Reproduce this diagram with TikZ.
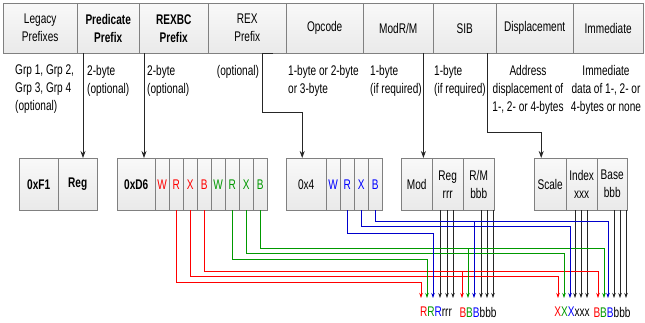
\documentclass[tikz,border=0pt]{standalone}
\usepackage{fontspec}
\setmainfont{Liberation Sans}[FakeStretch=0.72]
\usetikzlibrary{arrows.meta,calc,positioning}

\definecolor{bitred}{HTML}{FF0000}
\definecolor{bitgreen}{HTML}{009900}
\definecolor{bitblue}{HTML}{0000FF}
\definecolor{wireblue}{HTML}{0000CC}

\newcommand{\fieldfont}{\fontsize{14}{18}\selectfont}

\tikzset{
    fieldbox/.style={
        rectangle,
        draw=gray,
        top color=gray!5,
        bottom color=gray!17,
        anchor=north west,
        minimum height=50pt,
        inner sep=1pt,
        align=center,
        font=\fieldfont
    },
    bytebox/.style={
        fieldbox,
        minimum height=52pt
    },
    bitbox/.style={
        bytebox,
        minimum width=14pt,
        inner sep=0pt
    },
    desc/.style={
        anchor=north west,
        inner sep=0pt,
        align=left,
        font=\fieldfont
    },
    fieldarrow/.style={
        -{Stealth[length=7pt,width=5pt]},
        draw=black!85,
        line width=0.8pt
    },
    wire/.style={
        -{Stealth[length=5pt,width=3.5pt]},
        line width=0.7pt
    }
}

\begin{document}
\begin{tikzpicture}[x=1pt, y=-1pt]
    \useasboundingbox (0,0) rectangle (645,323);

    % Instruction format fields
    \node[fieldbox, minimum width=74pt] (legacy) at (3,3) {Legacy\\Prefixes};
    \node[fieldbox, minimum width=62pt, font=\fieldfont\bfseries] (predicate) at (77,3) {Predicate\\Prefix};
    \node[fieldbox, minimum width=69pt, font=\fieldfont\bfseries] (rexbc) at (139,3) {REXBC\\Prefix};
    \node[fieldbox, minimum width=78pt] (rex) at (208,3) {REX\\Prefix};
    \node[fieldbox, minimum width=77pt] (opcode) at (286,3) {Opcode};
    \node[fieldbox, minimum width=70pt] (modrm) at (363,3) {ModR/M};
    \node[fieldbox, minimum width=63pt] (sib) at (433,3) {SIB};
    \node[fieldbox, minimum width=77pt] (disp) at (496,3) {Displacement};
    \node[fieldbox, minimum width=70pt] (imm) at (573,3) {Immediate};

    % Field descriptions
    \node[desc] (legacydesc) at (15,65) {Grp 1, Grp 2,\\Grp 3, Grp 4\\(optional)};
    \node[desc] (predicatedesc) at (87,65) {2-byte\\(optional)};
    \node[desc] (rexbcdesc) at (147,65) {2-byte\\(optional)};
    \node[desc, anchor=north] (rexdesc) at (238,65) {(optional)};
    \node[desc] (opcodedesc) at (288,65) {1-byte or 2-byte\\or 3-byte};
    \node[desc] (modrmdesc) at (370,65) {1-byte\\(if required)};
    \node[desc] (sibdesc) at (434,65) {1-byte\\(if required)};
    \node[desc, anchor=north, align=center] (dispdesc) at (528,65) {Address\\displacement of\\1-, 2- or 4-bytes};
    \node[desc, anchor=north, align=center] (immdesc) at (606,65) {Immediate\\data of 1-, 2- or\\4-bytes or none};

    % Encoded bytes
    \node[bytebox, minimum width=39pt, font=\fieldfont\bfseries] (f1) at (19,158) {0xF1};
    \node[bytebox, minimum width=39pt, font=\fieldfont\bfseries] (freg) at (58,158) {Reg};
    \node[bytebox, minimum width=38pt, font=\fieldfont\bfseries] (d6) at (117,158) {0xD6};
    \node[bytebox, minimum width=40pt] (x4) at (286,158) {0x4};
    \foreach \bit [count=\i from 0] in {W,R,X,B} {
        \node[bitbox, text=bitred] (rexbcA\bit) at ({155+14*\i},158) {\bit};
        \node[bitbox, text=bitgreen] (rexbcB\bit) at ({211+14*\i},158) {\bit};
        \node[bitbox, text=bitblue] (rex\bit) at ({326+14*\i},158) {\bit};
    }
    \node[bytebox, minimum width=31pt] (mod) at (401,158) {Mod};
    \node[bytebox, minimum width=31pt] (reg) at (432,158) {Reg\\rrr};
    \node[bytebox, minimum width=31pt] (rm) at (463,158) {R/M\\bbb};
    \node[bytebox, minimum width=32pt] (scale) at (534,158) {Scale};
    \node[bytebox, minimum width=31pt] (index) at (566,158) {Index\\xxx};
    \node[bytebox, minimum width=30pt] (base) at (597,158) {Base\\bbb};

    % Field -> byte arrows
    \coordinate (predtap) at ([xshift=6pt]predicate.south west);
    \coordinate (rexbctap) at ([xshift=5pt]rexbc.south west);
    \coordinate (rextap) at ([xshift=65pt]rex.south west);
    \coordinate (modrmtap) at ([xshift=-10pt]modrm.south east);
    \coordinate (sibtap) at ([xshift=-9pt]sib.south east);
    \draw[fieldarrow] (predtap) -- (predtap |- freg.north);
    \draw[fieldarrow] (rexbctap) -- (rexbctap |- d6.north);
    \draw[fieldarrow] (rextap) -- ++(-11,0) -- ++(0,59) -| ([xshift=-4pt]x4.north);
    \draw[fieldarrow] (modrmtap) -- (modrmtap |- mod.north);
    \draw[fieldarrow] (sibtap) -- ++(0,79) -| ([xshift=-9pt]scale.north);

    % Arrow tips of the decoded register numbers
    \foreach \name/\x in {regR/421, regG/427, regB/433, regK1/440, regK2/447, regK3/453,
                          rmR/462, rmG/468, rmB/474, rmK1/481, rmK2/487, rmK3/493,
                          idxR/558, idxG/564, idxB/570, idxK1/575, idxK2/581, idxK3/587,
                          baseR/598, baseG/604, baseB/608, baseK1/614, baseK2/620, baseK3/626}
        \coordinate (\name) at (\x,298);

    % Low bits straight down
    \foreach \t in {regK1, regK2, regK3}
        \draw[wire, black!85] (\t |- reg.south) -- (\t);
    \foreach \t in {rmK1, rmK2, rmK3}
        \draw[wire, black!85] (\t |- rm.south) -- (\t);
    \foreach \t in {idxK1, idxK2, idxK3}
        \draw[wire, black!85] (\t |- index.south) -- (\t);
    \foreach \t in {baseK1, baseK2, baseK3}
        \draw[wire, black!85] (\t |- base.south) -- (\t);

    % REXBC bits (first half)
    \draw[wire, bitred] (rexbcAR.south) -- ++(0,72) -| (regR);
    \draw[wire, bitred] (rexbcAX.south) -- ++(0,66) -| (idxR);
    \draw[wire, bitred] (rexbcAB.south) -- ++(0,61) coordinate (redBturn) -| (baseR);
    \draw[wire, bitred] (redBturn -| rmR) -- (rmR);

    % REXBC bits (second half)
    \draw[wire, bitgreen] (rexbcBR.south) -- ++(0,49) -| (regG);
    \draw[wire, bitgreen] (rexbcBX.south) -- ++(0,43) -| (idxG);
    \draw[wire, bitgreen] (rexbcBB.south) -- ++(0,38) coordinate (greenBturn) -| (baseG);
    \draw[wire, bitgreen] (greenBturn -| rmG) -- (rmG);

    % REX bits
    \draw[wire, wireblue] (rexR.south) -- ++(0,23) -| (regB);
    \draw[wire, wireblue] (rexX.south) -- ++(0,16) -| (idxB);
    \draw[wire, wireblue] (rexB.south) -- ++(0,11) coordinate (blueBturn) -| (baseB);
    \draw[wire, wireblue] (blueBturn -| rmB) -- (rmB);

    % Register number labels
    \node[font=\fieldfont] (regout) at (436,312) {\textcolor{bitred}{R}\textcolor{bitgreen}{R}\textcolor{bitblue}{R}rrr};
    \node[font=\fieldfont] (rmout) at (478,312) {\textcolor{bitred}{B}\textcolor{bitgreen}{B}\textcolor{bitblue}{B}bbb};
    \node[font=\fieldfont] (idxout) at (572,312) {\textcolor{bitred}{X}\textcolor{bitgreen}{X}\textcolor{bitblue}{X}xxx};
    \node[font=\fieldfont] (baseout) at (612,312) {\textcolor{bitred}{B}\textcolor{bitgreen}{B}\textcolor{bitblue}{B}bbb};
\end{tikzpicture}
\end{document}
